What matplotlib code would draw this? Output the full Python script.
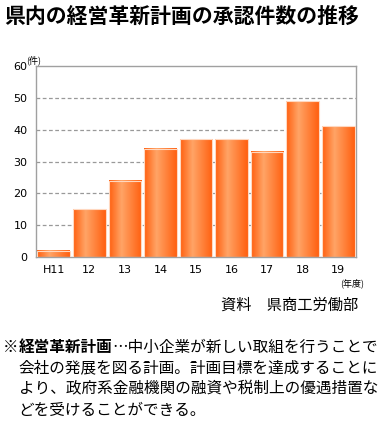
import numpy as np
import matplotlib.pyplot as plt
from matplotlib.colors import LinearSegmentedColormap

plt.rcParams['font.family'] = ['Noto Sans CJK JP', 'DejaVu Sans']

# データ
nendo = ['H11', '12', '13', '14', '15', '16', '17', '18', '19']
kensu = [2, 15, 24, 34, 37, 37, 33, 49, 41]

W, H = 381, 422
fig = plt.figure(figsize=(W / 100, H / 100), dpi=100)
ax = fig.add_axes([36 / W, 1 - 257 / H, 320 / W, 191 / H])

# 横方向グラデーション(オレンジ)
grad = LinearSegmentedColormap.from_list(
    'naranja', [(0, '#ff6010'), (0.38, '#ffa466'), (1, '#ff6010')])
fila = np.linspace(0, 1, 64).reshape(1, -1)

ancho = 0.92
x = np.arange(len(nendo))
barras = ax.bar(x, kensu, width=ancho, color='none', edgecolor='#ffd8c0',
                linewidth=0.8, zorder=3)
for b in barras:
    x0, y0 = b.get_x(), b.get_y()
    ax.imshow(fila, cmap=grad, aspect='auto', zorder=2,
              extent=(x0, x0 + b.get_width(), y0, y0 + b.get_height()))

ax.set_xlim(-0.5, len(nendo) - 0.5)
ax.set_ylim(0, 60)
ax.set_yticks(range(0, 61, 10))
ax.set_xticks(x)
ax.set_xticklabels(nendo, family='DejaVu Sans', fontsize=8)
for lab in ax.get_yticklabels():
    lab.set_family('DejaVu Sans')
    lab.set_fontsize(8)
ax.tick_params(length=0, pad=6)
for y in range(10, 60, 10):
    ax.axhline(y, color='#999999', linestyle=(0, (3, 2)), linewidth=0.9, zorder=1)
for s in ax.spines.values():
    s.set_color('#a0a0a0')
    s.set_linewidth(1)

# タイトルと注記
fig.text(4 / W, 1 - 16 / H, '県内の経営革新計画の承認件数の推移', fontsize=15,
         fontweight='bold', va='center', ha='left')
fig.text(34 / W, 1 - 60 / H, '(件)', fontsize=6.5, va='center', ha='center')
fig.text(352 / W, 1 - 283 / H, '(年度)', fontsize=6.5, va='center', ha='center')
fig.text(358 / W, 1 - 305 / H, '資料　県商工労働部', fontsize=11, va='center', ha='right')

fs = 11.25
paso = 15.65
fig.text(3 / W, 1 - 347 / H, '※', fontsize=fs, va='center', ha='left')
negrita = fig.text((3 + paso) / W, 1 - 347 / H, '経営革新計画', fontsize=fs,
                   fontweight='bold', va='center', ha='left')
fig.canvas.draw()
x1 = negrita.get_window_extent().x1
fig.text(x1 / W, 1 - 347 / H, '…中小企業が新しい取組を行うことで',
         fontsize=fs, va='center', ha='left')
lineas = ['会社の発展を図る計画。計画目標を達成することに',
          'より、政府系金融機関の融資や税制上の優遇措置な',
          'どを受けることができる。']
for i, t in enumerate(lineas):
    fig.text((3 + paso) / W, 1 - (368 + 21 * i) / H, t, fontsize=fs,
             va='center', ha='left')

fig.savefig('out.png', dpi=100)
